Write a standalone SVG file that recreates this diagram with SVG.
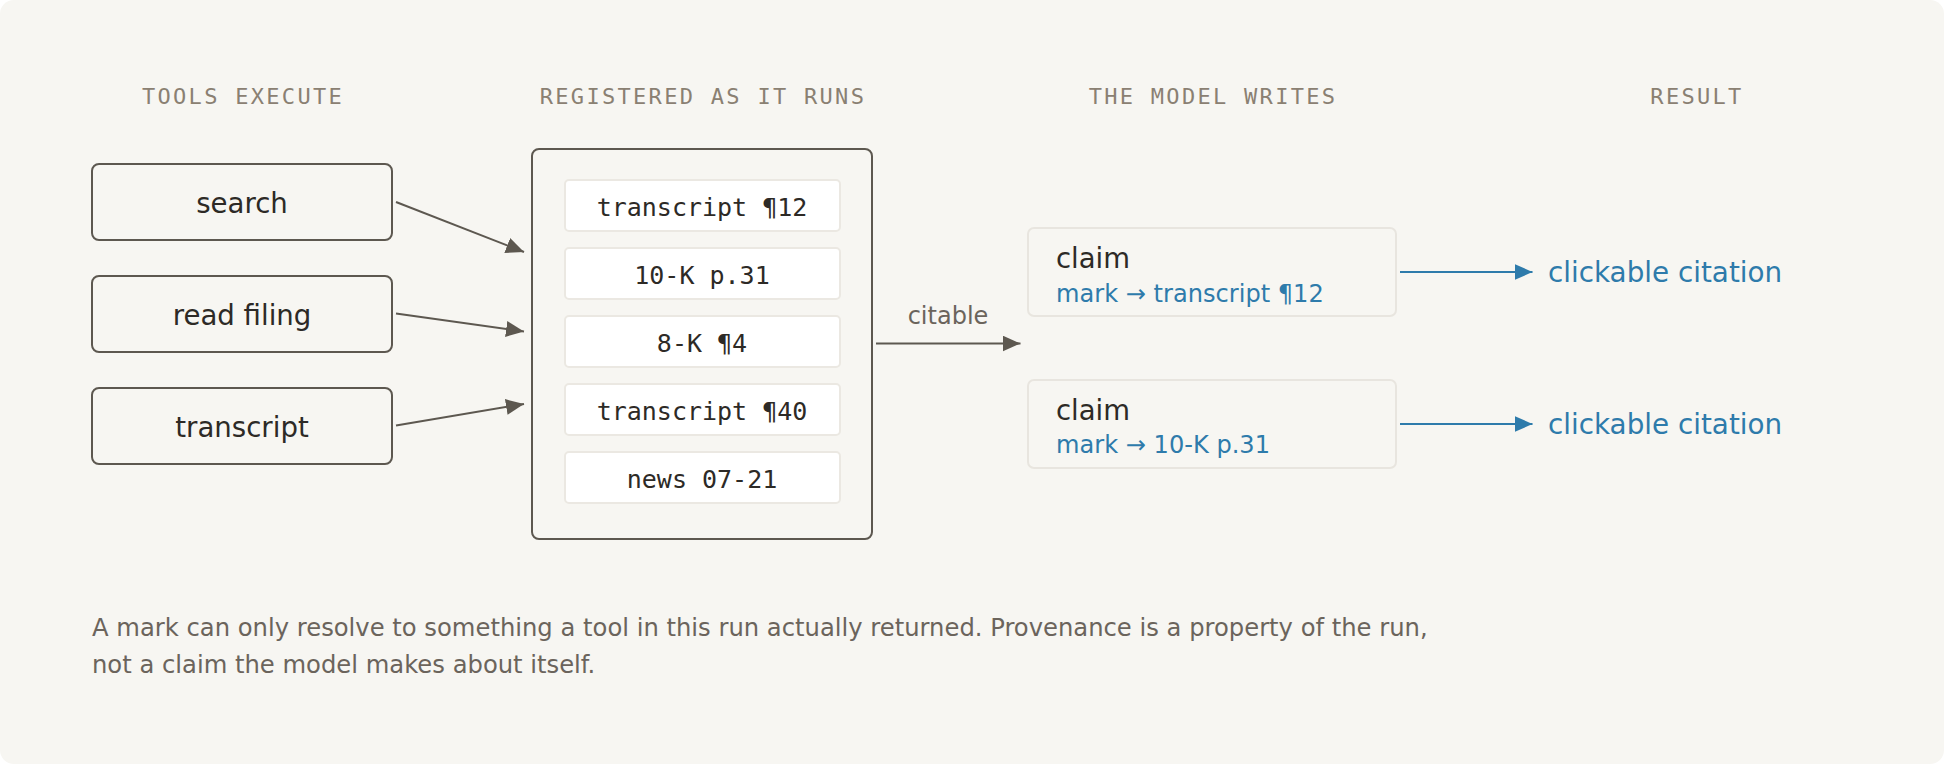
<svg xmlns="http://www.w3.org/2000/svg" width="1944" height="764" viewBox="0 0 1944 764">
<style>
.hdr{font-family:"DejaVu Sans Mono",monospace;font-size:22px;letter-spacing:2.3px;fill:#8a8072;text-anchor:middle}
.tool rect{fill:#f7f6f2;stroke:#5d5850;stroke-width:2}
.tool text{font-family:"DejaVu Sans",sans-serif;font-size:27.6px;fill:#2d2a26;text-anchor:middle}
.item rect{fill:#ffffff;stroke:#ebe8e2;stroke-width:2}
.item text{font-family:"DejaVu Sans Mono",monospace;font-size:25px;fill:#2d2a26;text-anchor:middle}
.claim rect{fill:#f7f6f2;stroke:#e8e5df;stroke-width:2}
.claim .t{font-family:"DejaVu Sans",sans-serif;font-size:27.5px;fill:#2d2a26}
.claim .m{font-family:"DejaVu Sans",sans-serif;font-size:24.1px;fill:#2e7bab}
.res{font-family:"DejaVu Sans",sans-serif;font-size:27.8px;fill:#2e7bab}
.lbl{font-family:"DejaVu Sans",sans-serif;font-size:24px;fill:#6b645c}
.foot{font-family:"DejaVu Sans",sans-serif;font-size:24.25px;fill:#6b645c}
.conn{fill:none;stroke:#5d5850;stroke-width:2}
.connb{fill:none;stroke:#2e7bab;stroke-width:2}
</style>
<defs>
<marker id="ah" markerUnits="userSpaceOnUse" markerWidth="19" markerHeight="16" refX="18" refY="8" orient="auto" viewBox="0 0 19 16">
<path d="M0,0 L18,8 L0,16 z" fill="#5d5850"/>
</marker>
<marker id="ahb" markerUnits="userSpaceOnUse" markerWidth="19" markerHeight="16" refX="18" refY="8" orient="auto" viewBox="0 0 19 16">
<path d="M0,0 L18,8 L0,16 z" fill="#2e7bab"/>
</marker>
</defs>
<rect x="0" y="0" width="1944" height="764" rx="14" fill="#f7f6f2"/>
<g id="headers">
<text class="hdr" x="243" y="104">TOOLS EXECUTE</text>
<text class="hdr" x="703" y="104">REGISTERED AS IT RUNS</text>
<text class="hdr" x="1213" y="104">THE MODEL WRITES</text>
<text class="hdr" x="1697" y="104">RESULT</text>
</g>
<g id="tool-search" class="tool"><rect x="92" y="164" width="300" height="76" rx="7"/><text x="242" y="212.5">search</text></g>
<g id="tool-read-filing" class="tool"><rect x="92" y="276" width="300" height="76" rx="7"/><text x="242" y="324.5">read filing</text></g>
<g id="tool-transcript" class="tool"><rect x="92" y="388" width="300" height="76" rx="7"/><text x="242" y="436.5">transcript</text></g>
<g id="registry">
<rect x="532" y="149" width="340" height="390" rx="7" fill="#f7f6f2" stroke="#5d5850" stroke-width="2"/>
<g id="item-1" class="item"><rect x="565" y="180" width="275" height="51" rx="4"/><text x="702" y="216">transcript ¶12</text></g>
<g id="item-2" class="item"><rect x="565" y="248" width="275" height="51" rx="4"/><text x="702" y="284">10-K p.31</text></g>
<g id="item-3" class="item"><rect x="565" y="316" width="275" height="51" rx="4"/><text x="702" y="352">8-K ¶4</text></g>
<g id="item-4" class="item"><rect x="565" y="384" width="275" height="51" rx="4"/><text x="702" y="420">transcript ¶40</text></g>
<g id="item-5" class="item"><rect x="565" y="452" width="275" height="51" rx="4"/><text x="702" y="488">news 07-21</text></g>
</g>
<g id="claim-1" class="claim"><rect x="1028" y="228" width="368" height="88" rx="6"/><text class="t" x="1056" y="267.5">claim</text><text class="m" x="1056" y="301.5">mark → transcript ¶12</text></g>
<g id="claim-2" class="claim"><rect x="1028" y="380" width="368" height="88" rx="6"/><text class="t" x="1056" y="420">claim</text><text class="m" x="1056" y="453">mark → 10-K p.31</text></g>
<g id="result-1"><text class="res" x="1548" y="282">clickable citation</text></g>
<g id="result-2"><text class="res" x="1548" y="434">clickable citation</text></g>
<g id="connectors">
<line class="conn" x1="396" y1="202" x2="524" y2="252" marker-end="url(#ah)"/>
<line class="conn" x1="396" y1="313.5" x2="524" y2="331.5" marker-end="url(#ah)"/>
<line class="conn" x1="396" y1="425.5" x2="524" y2="404" marker-end="url(#ah)"/>
<line class="conn" x1="876" y1="343.5" x2="1020.5" y2="343.5" marker-end="url(#ah)"/>
<text class="lbl" x="948" y="323.5" text-anchor="middle">citable</text>
<line class="connb" x1="1400" y1="272" x2="1532.5" y2="272" marker-end="url(#ahb)"/>
<line class="connb" x1="1400" y1="424" x2="1532.5" y2="424" marker-end="url(#ahb)"/>
</g>
<g id="footer">
<text class="foot" x="92" y="635.5">A mark can only resolve to something a tool in this run actually returned. Provenance is a property of the run,</text>
<text class="foot" x="92" y="672.5">not a claim the model makes about itself.</text>
</g>
</svg>
